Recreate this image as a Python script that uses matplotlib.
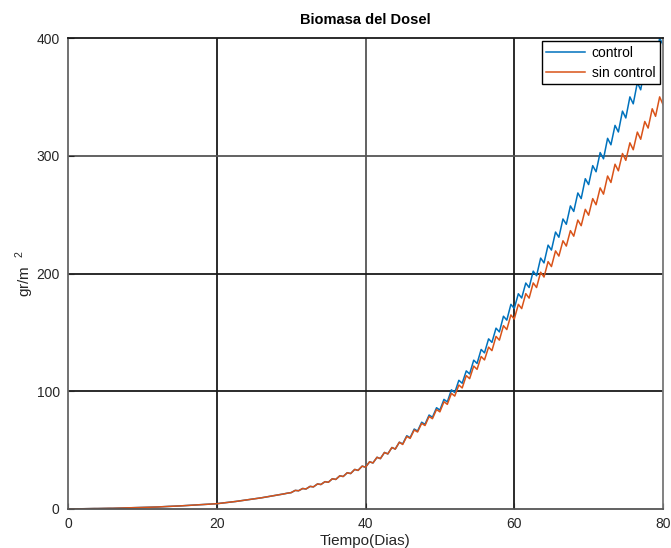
import numpy as np
import matplotlib
matplotlib.use('Agg')
import matplotlib.pyplot as plt

## Biomasa del dosel: valores diarios (minimo al inicio del dia, maximo dentro del dia)
dias=list(range(0,81))
control_min=[0.0,0.1,0.2,0.3,0.4,0.5,0.6,0.8,0.9,1.1,
	1.3,1.5,1.7,2.0,2.3,2.6,2.9,3.3,3.7,4.1,
	4.5,5.2,6.0,6.8,7.6,8.5,9.5,10.6,11.7,12.8,
	13.9,15.5,17.0,18.8,20.8,22.7,25.1,27.6,30.1,32.8,
	35.5,39.1,42.8,46.8,50.9,55.3,60.6,66.2,71.9,77.9,
	84.0,90.9,98.9,106.8,114.7,123.6,132.6,141.5,150.4,160.4,
	170.3,179.2,188.1,198.1,209.0,219.9,230.8,241.8,252.7,263.6,
	275.5,286.4,297.4,309.3,320.2,332.1,344.1,356.0,368.5,381.5,
	394.5]
control_max=[0.1,0.2,0.3,0.4,0.5,0.6,0.7,0.9,1.0,1.2,
	1.4,1.6,1.9,2.2,2.5,2.8,3.1,3.5,3.9,4.3,
	4.9,5.6,6.4,7.2,8.1,9.0,10.1,11.2,12.3,13.5,
	15.8,17.4,19.2,21.3,23.2,25.7,28.2,30.8,33.6,36.4,
	40.1,43.9,48.0,52.2,56.7,62.2,67.9,73.7,79.8,86.0,
	93.1,101.2,109.3,117.3,126.4,135.5,144.5,153.6,163.7,173.8,
	182.8,191.9,202.0,213.1,224.1,235.2,246.3,257.4,268.4,280.5,
	291.6,302.7,314.8,325.8,337.9,350.0,362.1,374.7,387.9,399.8]
sin_control_min=control_min[:45]+[54.8,60.0,65.4,70.9,76.7,
	82.5,88.9,95.9,102.8,110.7,118.6,126.6,134.5,143.4,152.4,
	161.3,170.2,179.1,188.1,197.0,205.9,214.8,223.3,231.7,240.6,
	249.5,258.4,267.4,277.3,287.2,296.1,305.1,314.0,323.5,333.5,
	343.5]
sin_control_max=control_max[:45]+[61.6,67.1,72.7,78.6,84.5,
	91.1,98.2,105.3,113.3,121.4,129.5,137.5,146.6,155.7,164.8,
	173.8,182.9,192.0,201.1,210.1,219.2,227.8,236.4,245.4,254.5,
	263.6,272.7,282.8,292.8,301.9,311.0,320.1,329.1,339.9,350.0]
t_pico=0.55	#fraccion del dia en la que se alcanza el maximo

def diente(mins,maxs):
	## une minimos y maximos diarios en una sola linea
	t=[];v=[]
	for i in range(len(maxs)):
		t+= [dias[i],dias[i]+t_pico]
		v+= [mins[i],maxs[i]]
	t.append(dias[len(maxs)]);v.append(mins[len(maxs)])
	return t,v

plt.rcParams['font.family']=['Liberation Sans','DejaVu Sans']
plt.rcParams['mathtext.fontset']='custom'
plt.rcParams['mathtext.rm']='Liberation Sans'
fig=plt.figure(figsize=(6.71,5.48),dpi=100)
ax=fig.add_axes([68/671,1-509/548,595/671,471/548])

tc,vc=diente(control_min,control_max)
ts,vs=diente(sin_control_min,sin_control_max)
ax.plot(tc,vc,color='#0072BD',lw=1.1,label='control')
ax.plot(ts,vs,color='#D95319',lw=1.1,label='sin control')

## rejilla
for x,c in [(20,'#1a1a1a'),(40,'#555555'),(60,'#1a1a1a')]:
	ax.axvline(x,color=c,lw=1.3,zorder=0)
for y,c in [(100,'#1a1a1a'),(200,'#1a1a1a'),(300,'#555555')]:
	ax.axhline(y,color=c,lw=1.3,zorder=0)

ax.set_xlim(0,80)
ax.set_ylim(0,400)
ax.set_xticks([0,20,40,60,80])
ax.set_yticks([0,100,200,300,400])
ax.tick_params(direction='in',length=4,labelsize=10,colors='#262626',pad=6)
for s,c in [('left','#666666'),('bottom','#555555'),('top','#1a1a1a'),('right','#777777')]:
	ax.spines[s].set_color(c)
	ax.spines[s].set_linewidth(1.3)

ax.set_title('Biomasa del Dosel',fontsize=10.5,fontweight='bold',pad=10)
ax.set_xlabel('Tiempo(Dias)',fontsize=11,labelpad=2,color='#262626')
ax.set_ylabel(r'gr/m  $^{2}$',fontsize=11,labelpad=0,color='#262626')
ax.legend(loc='upper right',fancybox=False,edgecolor='black',framealpha=1,fontsize=10,
	borderaxespad=0.25,handlelength=2.8,borderpad=0.3,labelspacing=0.45,handletextpad=0.5)

fig.savefig('out.png',dpi=100)
